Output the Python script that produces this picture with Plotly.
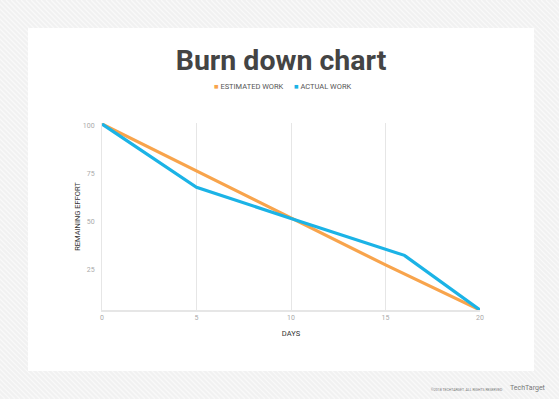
import plotly.graph_objects as go

days_est = [0, 5, 10, 15, 20]
estimated = [101, 76.5, 52, 27.5, 4]
days_act = [0, 5, 10, 16, 20]
actual = [101, 68, 51.7, 32.5, 4]
x_ticks = [0, 5, 10, 15, 20]
y_ticks = [25, 50, 75, 100]
series_names = ["ESTIMATED WORK", "ACTUAL WORK"]
colors = ["#F8A44C", "#1BB3E6"]

fig = go.Figure()
fig.add_trace(go.Scatter(x=days_est, y=estimated, mode="lines", name=series_names[0],
                         line=dict(color=colors[0], width=3.2), showlegend=False, hoverinfo="skip"))
fig.add_trace(go.Scatter(x=days_act, y=actual, mode="lines", name=series_names[1],
                         line=dict(color=colors[1], width=3.2), showlegend=False, hoverinfo="skip"))

W, H = 559, 399
L, R, T, B = 102, 79, 123, 89


def px_x(p):
    return (p - L) / (W - L - R)


def px_y(p):
    return (H - B - p) / (H - T - B)


shapes = []
# subtle diagonal stripes on the outer background
step = 5
for k in range(-H, W + H, step):
    shapes.append(dict(type="line", xref="paper", yref="paper",
                       x0=px_x(k), y0=px_y(0), x1=px_x(k + H), y1=px_y(H),
                       line=dict(color="#f9f9f9", width=1.2), layer="below"))
shapes.append(dict(type="rect", xref="paper", yref="paper", x0=px_x(28), x1=px_x(534), y0=px_y(371), y1=px_y(28),
                   fillcolor="white", line=dict(width=0), layer="below"))

legend_ann = [
    dict(text=f'<span style="color:{colors[0]}">■</span> {series_names[0]}', xref="paper", yref="paper",
         x=px_x(212), y=px_y(86), xanchor="left", yanchor="middle", showarrow=False,
         font=dict(family="Roboto", size=7.5, color="#555555")),
    dict(text=f'<span style="color:{colors[1]}">■</span> {series_names[1]}', xref="paper", yref="paper",
         x=px_x(292), y=px_y(86), xanchor="left", yanchor="middle", showarrow=False,
         font=dict(family="Roboto", size=7.5, color="#555555")),
]

fig.update_layout(
    width=W, height=H,
    margin=dict(l=L, r=R, t=T, b=B),
    paper_bgcolor="#f1f1f1",
    plot_bgcolor="white",
    shapes=shapes,
    showlegend=False,
    title=dict(text="<b>Burn down chart</b>", x=281 / W, xref="container", xanchor="center", y=1 - 60 / H,
               yanchor="middle", font=dict(family="Roboto", size=28.5, color="#444444")),
    xaxis=dict(range=[0, 20], tickvals=x_ticks, showgrid=True, gridcolor="#e6e6e6", gridwidth=1,
               showline=True, linecolor="#e6e6e6", linewidth=2, zeroline=False, ticks="",
               tickfont=dict(family="Roboto", size=7, color="#aaaaaa"),
               title=dict(text="DAYS", font=dict(family="Roboto", size=7.5, color="#333333"), standoff=9)),
    yaxis=dict(range=[4, 101.5], tickvals=y_ticks, showgrid=False,
               showline=True, linecolor="#e6e6e6", linewidth=1, zeroline=False, ticks="",
               tickfont=dict(family="Roboto", size=7, color="#aaaaaa"), ticklabelstandoff=5,
               title=dict(text="REMAINING EFFORT", font=dict(family="Roboto", size=7.5, color="#333333"), standoff=1)),
    annotations=legend_ann + [
        dict(text="©2018 TECHTARGET. ALL RIGHTS RESERVED", xref="paper", yref="paper", x=px_x(505), y=px_y(389),
             xanchor="right", yanchor="middle", showarrow=False, font=dict(family="Roboto", size=3.5, color="#777777")),
        dict(text="TechTarget", xref="paper", yref="paper", x=px_x(508), y=px_y(388),
             xanchor="left", yanchor="middle", showarrow=False, font=dict(family="Roboto", size=7, color="#777777")),
    ],
)
fig.write_html("out.html", config={"displayModeBar": False},
               post_script="document.body.style.margin='0';document.body.style.overflow='hidden';")
